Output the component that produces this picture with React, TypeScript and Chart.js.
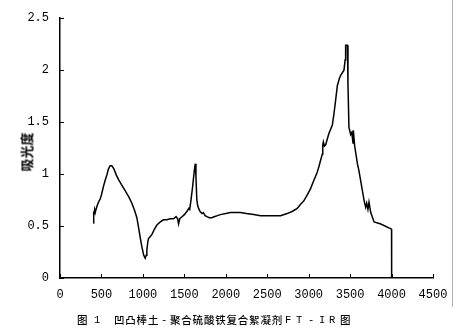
import React, { useEffect, useRef } from "react";
import { Chart, registerables } from "chart.js";

Chart.register(...registerables);

// Wavenumber (cm-1)
const wavenumbers: number[] = [
  400, 403, 410, 418, 425, 435, 450, 470, 485, 500, 524, 545, 565, 585, 605, 625, 650, 680, 705, 740,
  786, 830, 867, 900, 927, 947, 970, 988, 1010, 1028, 1040, 1048, 1060, 1068, 1090, 1109, 1140, 1169,
  1210, 1249, 1290, 1330, 1370, 1400, 1420, 1430, 1445, 1472, 1500, 1530, 1555, 1565, 1580, 1600,
  1620, 1632, 1640, 1650, 1660, 1672, 1690, 1713, 1730, 1750, 1774, 1800, 1830, 1860, 1900, 1935,
  2000, 2056, 2120, 2177, 2250, 2337, 2420, 2499, 2580, 2660, 2741, 2800, 2862, 2902, 2940, 2983,
  3023, 3063, 3100, 3123, 3150, 3164, 3170, 3177, 3190, 3204, 3244, 3285, 3305, 3325, 3346, 3370,
  3386, 3426, 3440, 3446, 3467, 3474, 3486, 3507, 3520, 3535, 3539, 3555, 3588, 3607, 3648, 3670,
  3688, 3700, 3715, 3728, 3749, 3789, 3870, 4000, 4001,
];

// Absorbance
const absorbance: number[] = [
  0.53, 0.64, 0.6, 0.66, 0.63, 0.66, 0.7, 0.74, 0.76, 0.8, 0.88, 0.94, 0.99, 1.05, 1.08, 1.08, 1.05,
  0.99, 0.95, 0.9, 0.84, 0.78, 0.72, 0.65, 0.58, 0.49, 0.38, 0.3, 0.22, 0.19, 0.22, 0.27, 0.35, 0.38,
  0.4, 0.42, 0.47, 0.51, 0.54, 0.56, 0.56, 0.57, 0.57, 0.59, 0.57, 0.52, 0.57, 0.59, 0.61, 0.64, 0.67,
  0.66, 0.75, 0.88, 1.03, 1.1, 0.98, 0.76, 0.7, 0.67, 0.64, 0.62, 0.63, 0.6, 0.59, 0.58, 0.58, 0.59,
  0.6, 0.61, 0.62, 0.63, 0.63, 0.63, 0.62, 0.61, 0.6, 0.6, 0.6, 0.6, 0.62, 0.64, 0.67, 0.71, 0.74,
  0.8, 0.86, 0.94, 1.01, 1.07, 1.15, 1.19, 1.28, 1.31, 1.27, 1.28, 1.39, 1.47, 1.58, 1.71, 1.85, 1.92,
  1.95, 2.0, 2.1, 2.24, 2.24, 1.87, 1.45, 1.38, 1.4, 1.3, 1.42, 1.27, 1.1, 1.03, 0.84, 0.74, 0.68,
  0.72, 0.66, 0.73, 0.63, 0.54, 0.52, 0.47, 0,
];

const xTickLabels: string[] = ["0", "500", "1000", "1500", "2000", "2500", "3000", "3500", "4000", "4500"];
const yTickLabels: string[] = ["0", "0.5", "1", "1.5", "2", "2.5"];
const yAxisTitle = "吸光度";
// Caption pieces: [text, left px]
const captionParts: [string, number][] = [
  ["图", 77],
  ["1", 94],
  ["凹凸棒土", 114],
  ["-", 161],
  ["聚合硫酸铁复合絮凝剂", 170],
  ["F", 285],
  ["T", 296],
  ["-", 308],
  ["I", 319],
  ["R", 329],
  ["图", 340],
];

const inwardTicks = {
  id: "inwardTicks",
  afterDraw(chart: any) {
    const { ctx, chartArea, scales } = chart;
    ctx.save();
    ctx.strokeStyle = "#000";
    ctx.lineWidth = 1;
    ctx.beginPath();
    scales.x.ticks.forEach((t: any) => {
      const px = Math.round(scales.x.getPixelForValue(t.value)) + 0.5;
      ctx.moveTo(px, chartArea.bottom);
      ctx.lineTo(px, chartArea.bottom - 4);
    });
    scales.y.ticks.forEach((t: any) => {
      const py = Math.round(scales.y.getPixelForValue(t.value)) + 0.5;
      ctx.moveTo(chartArea.left, py);
      ctx.lineTo(chartArea.left + 4, py);
    });
    ctx.stroke();
    ctx.restore();
  },
};

export default function App() {
  const canvasRef = useRef<HTMLCanvasElement | null>(null);

  useEffect(() => {
    if (!canvasRef.current) return;
    const points = wavenumbers.map((x, i) => ({ x, y: absorbance[i] }));
    const chart = new Chart(canvasRef.current, {
      type: "line",
      data: {
        datasets: [
          {
            data: points,
            borderColor: "#000",
            borderWidth: 1.5,
            pointRadius: 0,
            tension: 0,
            fill: false,
          },
        ],
      },
      options: {
        animation: false,
        responsive: false,
        devicePixelRatio: 1,
        parsing: false,
        layout: { padding: { left: 0, top: 17, right: 35, bottom: 0 } },
        plugins: { legend: { display: false }, tooltip: { enabled: false }, title: { display: false } },
        scales: {
          x: {
            type: "linear",
            min: 0,
            max: 4500,
            grid: { display: false, drawTicks: false },
            border: { display: true, color: "#000", width: 1.5 },
            ticks: {
              stepSize: 500,
              autoSkip: false,
              maxRotation: 0,
              padding: 10,
              color: "#000",
              font: { family: "Liberation Mono", size: 12 },
              callback: (_v: any, i: number) => xTickLabels[i],
            },
            afterFit: (s: any) => {
              s.height = 55;
            },
          },
          y: {
            type: "linear",
            min: 0,
            max: 2.5,
            grid: { display: false, drawTicks: false },
            border: { display: true, color: "#000", width: 1.5 },
            ticks: {
              stepSize: 0.5,
              padding: 11,
              color: "#000",
              font: { family: "Liberation Mono", size: 12 },
              callback: (_v: any, i: number) => yTickLabels[i],
            },
            afterFit: (s: any) => {
              s.width = 60;
            },
          },
        },
      },
      plugins: [inwardTicks],
    });
    return () => chart.destroy();
  }, []);

  return (
    <div style={{ position: "fixed", left: 0, top: 0, width: 468, height: 333, background: "#fff" }}>
      <canvas ref={canvasRef} width={468} height={333} style={{ position: "absolute", left: 0, top: 0 }} />
      <div
        style={{
          position: "absolute",
          left: 26,
          top: 152,
          transform: "translate(-50%, -50%) rotate(-90deg)",
          fontFamily: "'Noto Sans CJK SC'",
          fontWeight: 700,
          fontSize: 13,
          whiteSpace: "nowrap",
          color: "#000",
        }}
      >
        {yAxisTitle}
      </div>
      {captionParts.map(([text, left], i) => (
        <div
          key={i}
          style={{
            position: "absolute",
            left,
            top: 313,
            fontFamily: /^[A-Z0-9-]+$/.test(text) ? "'Liberation Mono'" : "'Noto Sans CJK SC'",
            fontWeight: 500,
            fontSize: 10.5,
            lineHeight: "14px",
            letterSpacing: "0.8px",
            whiteSpace: "pre",
            color: "#000",
          }}
        >
          {text}
        </div>
      ))}
      <div style={{ position: "absolute", left: 452, top: 0, width: 1, height: 307, background: "#b0b0b0" }} />
    </div>
  );
}
